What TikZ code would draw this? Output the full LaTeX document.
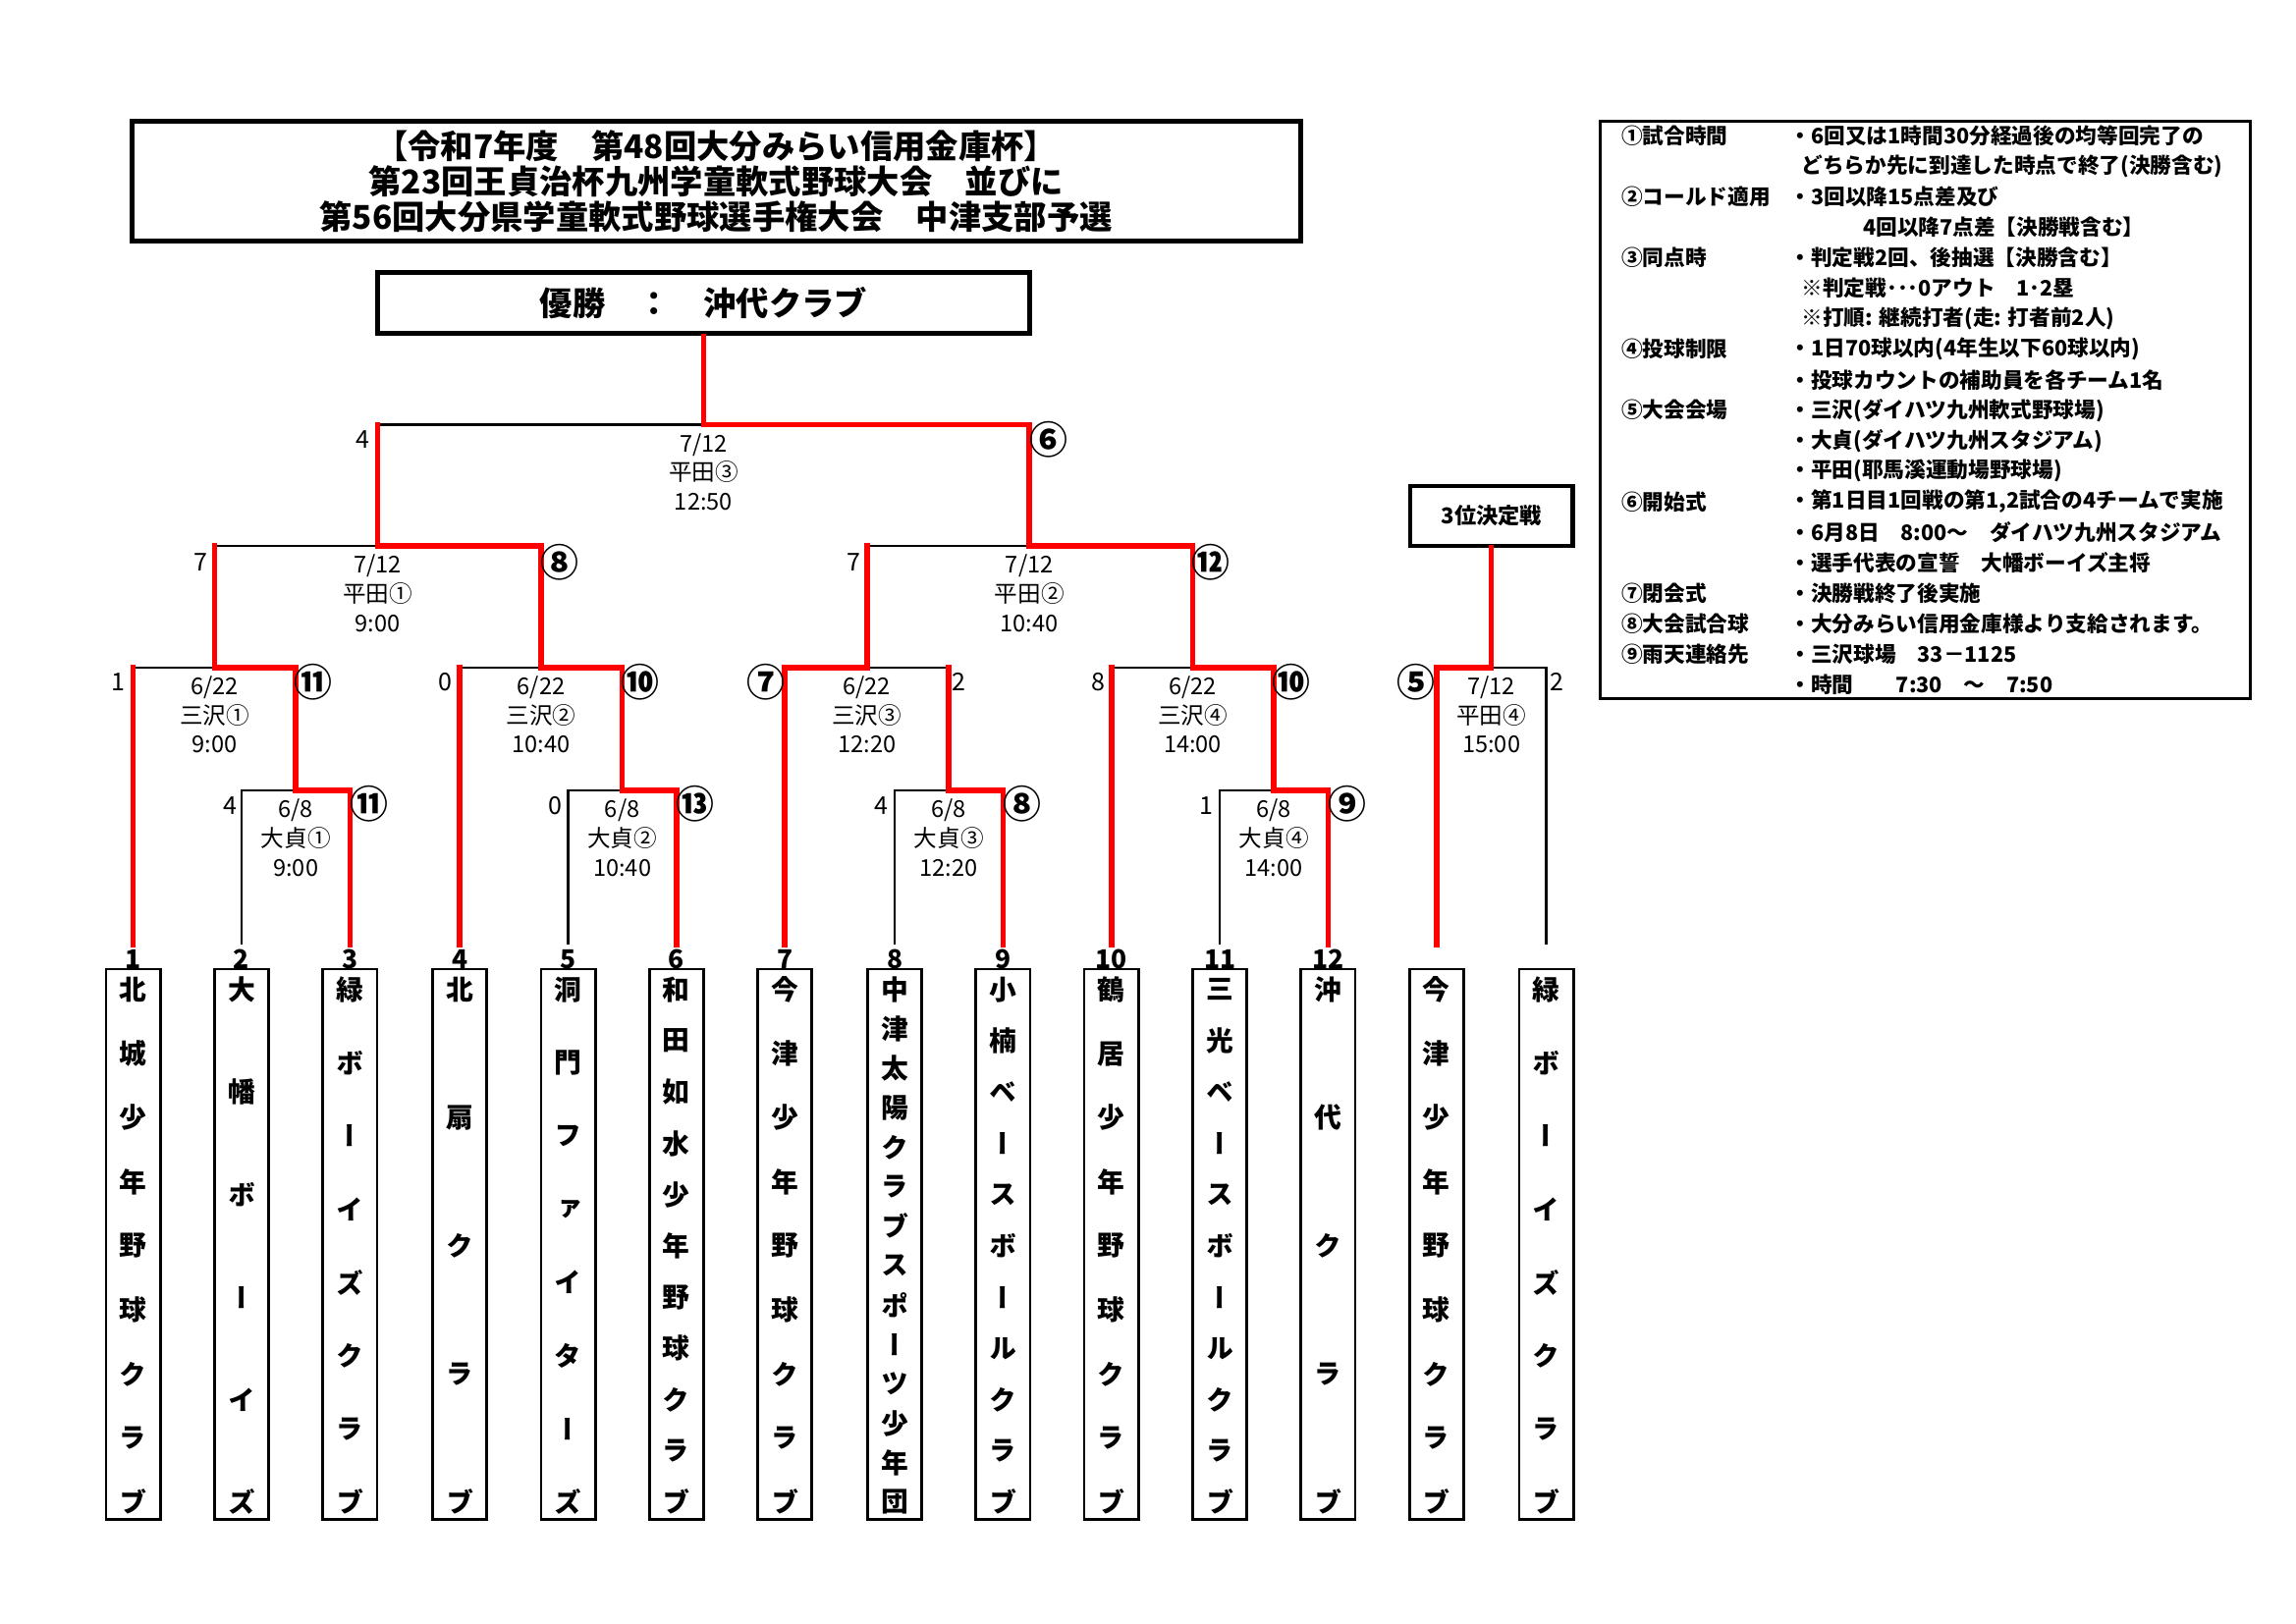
\documentclass[tikz,border=0pt]{standalone}
\usepackage{fontspec}
\setmainfont{Noto Sans CJK JP}
\newfontfamily\tatefont{Noto Sans CJK JP}[RawFeature=+vert]
\usetikzlibrary{positioning}

\tikzset{
  lose/.style={line width=0.8pt},
  win/.style={red, line width=2pt, line cap=rect},
  heavybox/.style={draw, line width=1.8pt, inner sep=0pt},
  thinbox/.style={draw, line width=1pt, inner sep=0pt},
  info/.style={align=center, inner sep=1pt, font=\fontsize{8.5}{10.7}\selectfont},
  pts/.style={inner sep=0pt, font=\fontsize{9}{9}\selectfont},
  wpts/.style={inner sep=0pt, font=\bfseries\fontsize{14}{14}\selectfont},
  teamno/.style={inner sep=0pt, font=\bfseries\fontsize{9.5}{9.5}\selectfont},
  teambox/.style={thinbox, minimum width=19.9pt, minimum height=201.9pt},
  tate/.style={inner sep=0pt, font=\tatefont\bfseries\fontsize{10}{10}\selectfont},
  note/.style={anchor=west, inner sep=0pt, font=\bfseries\fontsize{7.8}{7.8}\selectfont},
}

\begin{document}
\begin{tikzpicture}[x=0.5369pt, y=-0.5369pt]
  \useasboundingbox (0,0) rectangle (1568,1109);

  % headings
  \node[heavybox, minimum width=428.4pt, minimum height=44pt, align=center,
        font=\bfseries\fontsize{12}{13}\selectfont] (title) at (489,124)
    {【令和7年度　第48回大分みらい信用金庫杯】\\第23回王貞治杯九州学童軟式野球大会　並びに\\第56回大分県学童軟式野球選手権大会　中津支部予選};
  \node[heavybox, minimum width=238.9pt, minimum height=22.5pt,
        font=\bfseries\fontsize{12}{12}\selectfont] (champ) at (480.5,207) {優勝　：　沖代クラブ};
  \node[heavybox, line width=1.5pt, minimum width=59.6pt, minimum height=22pt,
        font=\bfseries\fontsize{8}{8}\selectfont] (third) at (1018.5,352.5) {3位決定戦};

  % bracket points
  \foreach \x [count=\i] in {91,165,239,314,388,462,536,611,685,759,833,907,981,1056}
    \coordinate (b\i) at (\x,645);
  \coordinate (o1) at (202,540);
  \coordinate (o2) at (425,540);
  \coordinate (o3) at (648,540);
  \coordinate (o4) at (870,540);
  \coordinate (s1) at (146.5,456);
  \coordinate (s2) at (369.5,456);
  \coordinate (s3) at (592,456);
  \coordinate (s4) at (814.5,456);
  \coordinate (h1) at (258,373);
  \coordinate (h2) at (703,373);
  \coordinate (h3) at (480.5,290);
  \coordinate (h4) at (1018.5,456);

  % losing sides
  \draw[lose] (b2) |- (o1);
  \draw[lose] (b5) |- (o2);
  \draw[lose] (b8) |- (o3);
  \draw[lose] (b11) |- (o4);
  \draw[lose] (b14) |- (h4);
  \draw[lose] (b1 |- s1) -- (s1);
  \draw[lose] (b4 |- s2) -- (s2);
  \draw[lose] (s3) -- (o3 |- s3);
  \draw[lose] (b10 |- s4) -- (s4);
  \draw[lose] (s1 |- h1) -- (h1);
  \draw[lose] (s3 |- h2) -- (h2);
  \draw[lose] (h1 |- h3) -- (h3);

  % winning sides
  \draw[win] (o1) -| (b3);
  \draw[win] (o2) -| (b6);
  \draw[win] (o3) -| (b9);
  \draw[win] (o4) -| (b12);
  \draw[win] (b1) -- (b1 |- s1);
  \draw[win] (s1) -| (o1);
  \draw[win] (b4) -- (b4 |- s2);
  \draw[win] (s2) -| (o2);
  \draw[win] (s3) -| (b7);
  \draw[win] (o3) -- (o3 |- s3);
  \draw[win] (b10) -- (b10 |- s4);
  \draw[win] (s4) -| (o4);
  \draw[win] (s1) -- (s1 |- h1);
  \draw[win] (h1) -| (s2);
  \draw[win] (s3) -- (s3 |- h2);
  \draw[win] (h2) -| (s4);
  \draw[win] (h1) -- (h1 |- h3);
  \draw[win] (h3) -| (h2);
  \draw[win] (h3) -- (champ);
  \draw[win] (h4) -| (b13);
  \draw[win] (h4) -- (third);

  % game info
  \foreach \m/\d/\v/\t in {o1/{6/8}/大貞①/9:00, o2/{6/8}/大貞②/10:40,
      o3/{6/8}/大貞③/12:20, o4/{6/8}/大貞④/14:00,
      s1/{6/22}/三沢①/9:00, s2/{6/22}/三沢②/10:40,
      s3/{6/22}/三沢③/12:20, s4/{6/22}/三沢④/14:00,
      h1/{7/12}/平田①/9:00, h2/{7/12}/平田②/10:40,
      h3/{7/12}/平田③/12:50, h4/{7/12}/平田④/15:00}
    \node[info, below=2pt of \m] (\m t) {\d\\\v\\\t};

  % scores
  \foreach \p/\s [count=\i] in {(157,550)/4, (81,466)/1, (379,550)/0, (304,466)/0,
      (137,384)/7, (602,550)/4, (655,466)/2, (824,550)/1, (750,466)/8,
      (583,384)/7, (248,300)/4, (1063,466)/2}
    \node[pts] (ls\i) at \p {\s};
  \foreach \p/\s [count=\i] in {(252,549)/⑪, (214,466)/⑪, (475,549)/⑬, (437,466)/⑩,
      (382,384)/⑧, (698,549)/⑧, (523,466)/⑦, (920,549)/⑨, (882,466)/⑩,
      (827,384)/⑫, (716,300)/⑥, (967,466)/⑤}
    \node[wpts] (ws\i) at \p {\s};

  % teams
  \foreach \x [count=\i] in {91,165,239,314,388,462,536,611,685,759,833,907}
    \node[teamno] (no\i) at (\x,655) {\i};
  \foreach \x/\cnt/\name [count=\i] in {
      91/9/{北,城,少,年,野,球,ク,ラ,ブ},
      165/6/{大,幡,ボ,ー,イ,ズ},
      239/8/{緑,ボ,ー,イ,ズ,ク,ラ,ブ},
      314/5/{北,扇,ク,ラ,ブ},
      388/8/{洞,門,フ,ァ,イ,タ,ー,ズ},
      462/11/{和,田,如,水,少,年,野,球,ク,ラ,ブ},
      536/9/{今,津,少,年,野,球,ク,ラ,ブ},
      611/14/{中,津,太,陽,ク,ラ,ブ,ス,ポ,ー,ツ,少,年,団},
      685/11/{小,楠,ベ,ー,ス,ボ,ー,ル,ク,ラ,ブ},
      759/9/{鶴,居,少,年,野,球,ク,ラ,ブ},
      833/11/{三,光,ベ,ー,ス,ボ,ー,ル,ク,ラ,ブ},
      907/5/{沖,代,ク,ラ,ブ},
      981/9/{今,津,少,年,野,球,ク,ラ,ブ},
      1056/8/{緑,ボ,ー,イ,ズ,ク,ラ,ブ}} {
    \node[teambox] (tb\i) at (\x,850) {};
    \foreach \c [count=\k] in \name
      \node[tate] (tb\i-\k) at (\x,{676+(\k-1)*350/(\cnt-1)}) {\c};
  }

  % rules
  \node[thinbox, minimum width=238.4pt, minimum height=211.5pt] (rules) at (1315,280) {};
  \foreach \lab/\cx/\txt [count=\i] in {
      ①試合時間/1222/・6回又は1時間30分経過後の均等回完了の,
      {}/1230/どちらか先に到達した時点で終了(決勝含む),
      ②コールド適用/1222/・3回以降15点差及び,
      {}/1272/4回以降7点差【決勝戦含む】,
      ③同点時/1222/・判定戦2回、後抽選【決勝含む】,
      {}/1230/※判定戦･･･0アウト　1･2塁,
      {}/1230/※打順: 継続打者(走: 打者前2人),
      ④投球制限/1222/・1日70球以内(4年生以下60球以内),
      {}/1222/・投球カウントの補助員を各チーム1名,
      ⑤大会会場/1222/・三沢(ダイハツ九州軟式野球場),
      {}/1222/・大貞(ダイハツ九州スタジアム),
      {}/1222/・平田(耶馬溪運動場野球場),
      ⑥開始式/1222/{・第1日目1回戦の第1,2試合の4チームで実施},
      {}/1222/・6月8日　8:00〜　ダイハツ九州スタジアム,
      {}/1222/・選手代表の宣誓　大幡ボーイズ主将,
      ⑦閉会式/1222/・決勝戦終了後実施,
      ⑧大会試合球/1222/・大分みらい信用金庫様より支給されます。,
      ⑨雨天連絡先/1222/・三沢球場　33－1125,
      {}/1222/・時間　　7:30　〜　7:50} {
    \node[note] (rl\i) at (1107,{93+(\i-1)*20.8}) {\lab};
    \node[note] (rt\i) at (\cx,{93+(\i-1)*20.8}) {\txt};
  }
\end{tikzpicture}
\end{document}
